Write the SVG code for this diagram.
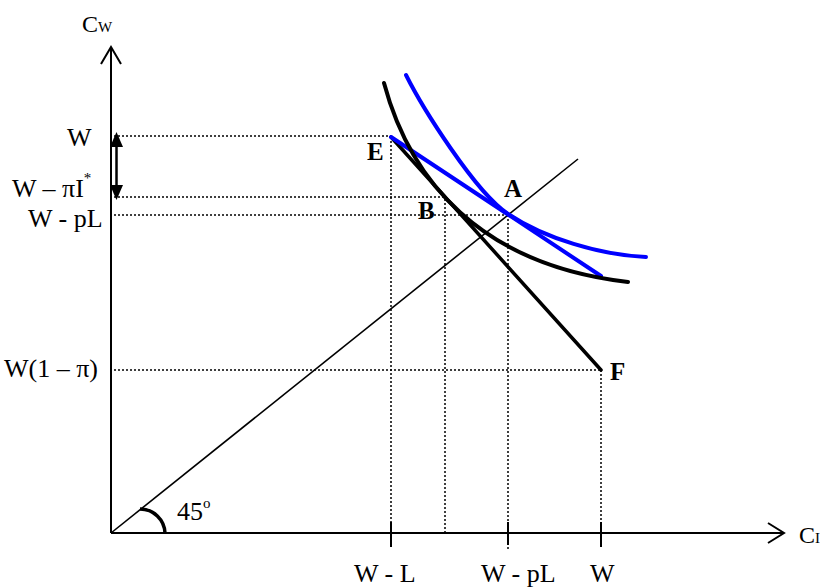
<svg xmlns="http://www.w3.org/2000/svg" width="823" height="588" viewBox="0 0 823 588">
<style>
text{font-family:"Liberation Serif","Times New Roman",serif;fill:#000}
.lbl{font-size:26px}
.pt{font-size:25px;font-weight:bold}
.sm{font-size:15px}
.dot{stroke:#000;stroke-width:1.5;stroke-dasharray:2 2;fill:none}
.ax{stroke:#000;stroke-width:2;fill:none}
.tick{stroke:#000;stroke-width:2}
.blk{stroke:#000;stroke-width:4;fill:none;stroke-linecap:round}
.blu{stroke:#0000FF;stroke-width:4;fill:none;stroke-linecap:round}
.head{fill:#000}
</style>
<rect width="823" height="588" fill="#fff"/>
<g id="guides">
<line class="dot" x1="114" y1="136" x2="391" y2="136"/>
<line class="dot" x1="114" y1="197" x2="445" y2="197"/>
<line class="dot" x1="114" y1="215" x2="508" y2="215"/>
<line class="dot" x1="114" y1="370" x2="601" y2="370"/>
<line class="dot" x1="391" y1="137" x2="391" y2="533"/>
<line class="dot" x1="445" y1="195" x2="445" y2="533"/>
<line class="dot" x1="508" y1="215" x2="508" y2="551"/>
<line class="dot" x1="601" y1="370" x2="601" y2="533"/>
</g>
<g id="axes">
<line class="ax" x1="111" y1="533" x2="111" y2="48"/>
<polyline class="ax" points="101,64 111,47 121,64"/>
<line class="ax" x1="111" y1="533" x2="784" y2="533"/>
<polyline class="ax" points="768,523 784,533 768,543"/>
<line class="tick" x1="391" y1="522" x2="391" y2="547"/>
<line class="tick" x1="508" y1="522" x2="508" y2="545"/>
<line class="tick" x1="601" y1="522" x2="601" y2="547"/>
<text x="82" y="32" style="font-size:24px">C<tspan class="sm">W</tspan></text>
<text x="799" y="543" style="font-size:24px">C<tspan class="sm">I</tspan></text>
</g>
<g id="double-arrow">
<line x1="116.5" y1="145" x2="116.5" y2="187" stroke="#000" stroke-width="2.5"/>
<polygon class="head" points="116.5,132 123,147 110,147"/>
<polygon class="head" points="116.5,200 123,185 110,185"/>
</g>
<g id="ylabels">
<text class="lbl" x="67" y="146">W</text>
<text class="lbl" x="12" y="197">W – πI<tspan class="sm" dy="-14">*</tspan></text>
<text class="lbl" x="28" y="227">W - pL</text>
<text class="lbl" x="4" y="377">W(1 – π)</text>
</g>
<g id="xlabels">
<text class="lbl" x="354" y="582">W - L</text>
<text class="lbl" x="481" y="582">W - pL</text>
<text class="lbl" x="590" y="582">W</text>
</g>
<g id="line45">
<line x1="111" y1="533" x2="578" y2="159" stroke="#000" stroke-width="1.6"/>
<path d="M140,509 A25,25 0 0 1 165,533" stroke="#000" stroke-width="3.5" fill="none"/>
<text class="lbl" x="177" y="520">45<tspan class="sm" dy="-12">o</tspan></text>
</g>
<g id="connectors">
<line class="blk" x1="391" y1="137" x2="601" y2="370" style="stroke-width:3.5"/>
<line class="blu" x1="391" y1="137" x2="601" y2="276"/>
<path class="blk" d="M384,83 C410,180 480,265 628,282"/>
<path class="blu" d="M406,75 C422,107 475,192 508,214 C545,238.5 600,255 646,257"/>
</g>
<g id="points">
<text class="pt" x="367" y="160">E</text>
<text class="pt" x="504" y="197">A</text>
<text class="pt" x="418" y="219">B</text>
<text class="pt" x="610" y="380">F</text>
</g>
</svg>
